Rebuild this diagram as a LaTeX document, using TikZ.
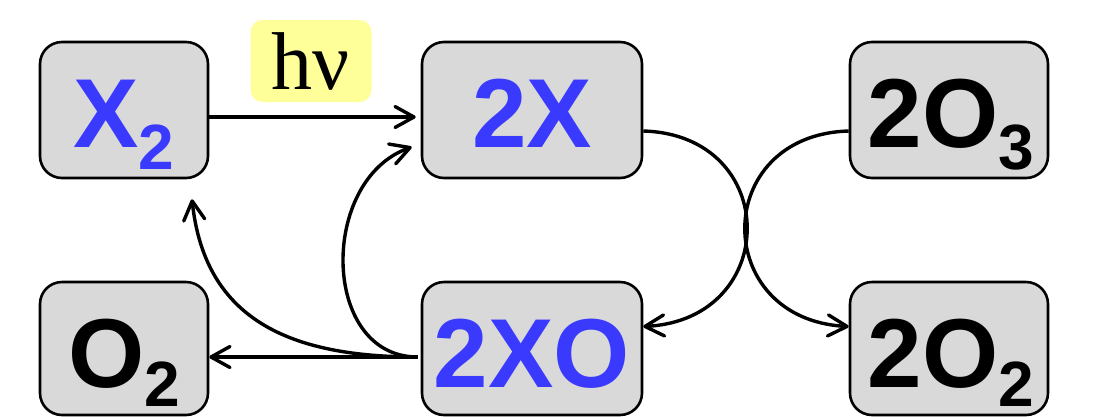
\documentclass[tikz,border=0pt]{standalone}
\usepackage{fontspec}
\setmainfont{Liberation Sans}
\newfontfamily\greekserif{Liberation Serif}
\usetikzlibrary{arrows.meta,calc}
\definecolor{boxgray}{RGB}{217,217,217}
\definecolor{specblue}{RGB}{58,58,255}
\definecolor{lightyellow}{RGB}{255,255,153}
\newcommand{\sub}[2][22pt]{\raisebox{-#1}{\fontsize{64}{64}\selectfont #2}}

\begin{document}
\begin{tikzpicture}[x=1pt,y=-1pt,
  species/.style={draw=black, line width=2.6pt, fill=boxgray,
    rounded corners=22pt, inner sep=0pt},
  formula/.style={inner sep=0pt, anchor=base,
    font=\bfseries\fontsize{98}{98}\selectfont},
  photon/.style={fill=lightyellow, rounded corners=12pt, inner sep=0pt,
    minimum width=121pt, minimum height=82pt,
    font=\greekserif\fontsize{82}{82}\selectfont},
  react/.style={line width=3.4pt,
    -{Straight Barb[length=19pt,width=21pt,line width=3.4pt,round]}},
]
\useasboundingbox (0,0) rectangle (1100,416);

% species boxes
\node[species, minimum width=168pt, minimum height=136pt] (xtwo)   at (124,110)   {};
\node[species, minimum width=220pt, minimum height=136pt] (xx)     at (532,110)   {};
\node[species, minimum width=198pt, minimum height=136pt] (othree) at (949,110)   {};
\node[species, minimum width=168pt, minimum height=133pt] (otwo)   at (124,348.5) {};
\node[species, minimum width=220pt, minimum height=133pt] (xo)     at (532,348.5) {};
\node[species, minimum width=198pt, minimum height=133pt] (otwob)  at (949,348.5) {};

% formulas
\node[formula, text=specblue] (txtwo)   at (124,147) {X\sub{2}};
\node[formula, text=specblue] (txx)     at (532,147) {2X};
\node[formula]                (tothree) at (951,147) {2O\sub{3}};
\node[formula]                (totwo)   at (124,387) {O\sub[19pt]{2}};
\node[formula, text=specblue] (txo)     at (532,387) {2XO};
\node[formula]                (totwob)  at (951,387) {2O\sub[19pt]{2}};

% photolysis label
\node[photon] (light) at (311,61) {hν};

% reactions
\coordinate (fork) at ($(xo.west)+(-3,8.5)$);
\draw[react] ($(xtwo.east)+(0,7)$) -- ($(xx.west)+(-5,7)$);
\draw[react] (fork) .. controls +(-97,0) and +(-93,33) .. ($(xx.west)+(-9,37)$);
\draw[react] (fork) .. controls +(-127,0) and +(13,121) .. ($(xtwo.south)+(68,20)$);
\draw[react] (fork) -- ($(otwo.east)+(0,8.5)$);
\draw[react] ($(xx.east)+(0,21)$) .. controls +(138,4) and +(138,-7) .. ($(xo.east)+(0,-22)$);
\draw[react] ($(othree.west)+(0,21)$) .. controls +(-138,4) and +(-138,-7) .. ($(otwob.west)+(0,-22)$);
\end{tikzpicture}
\end{document}
